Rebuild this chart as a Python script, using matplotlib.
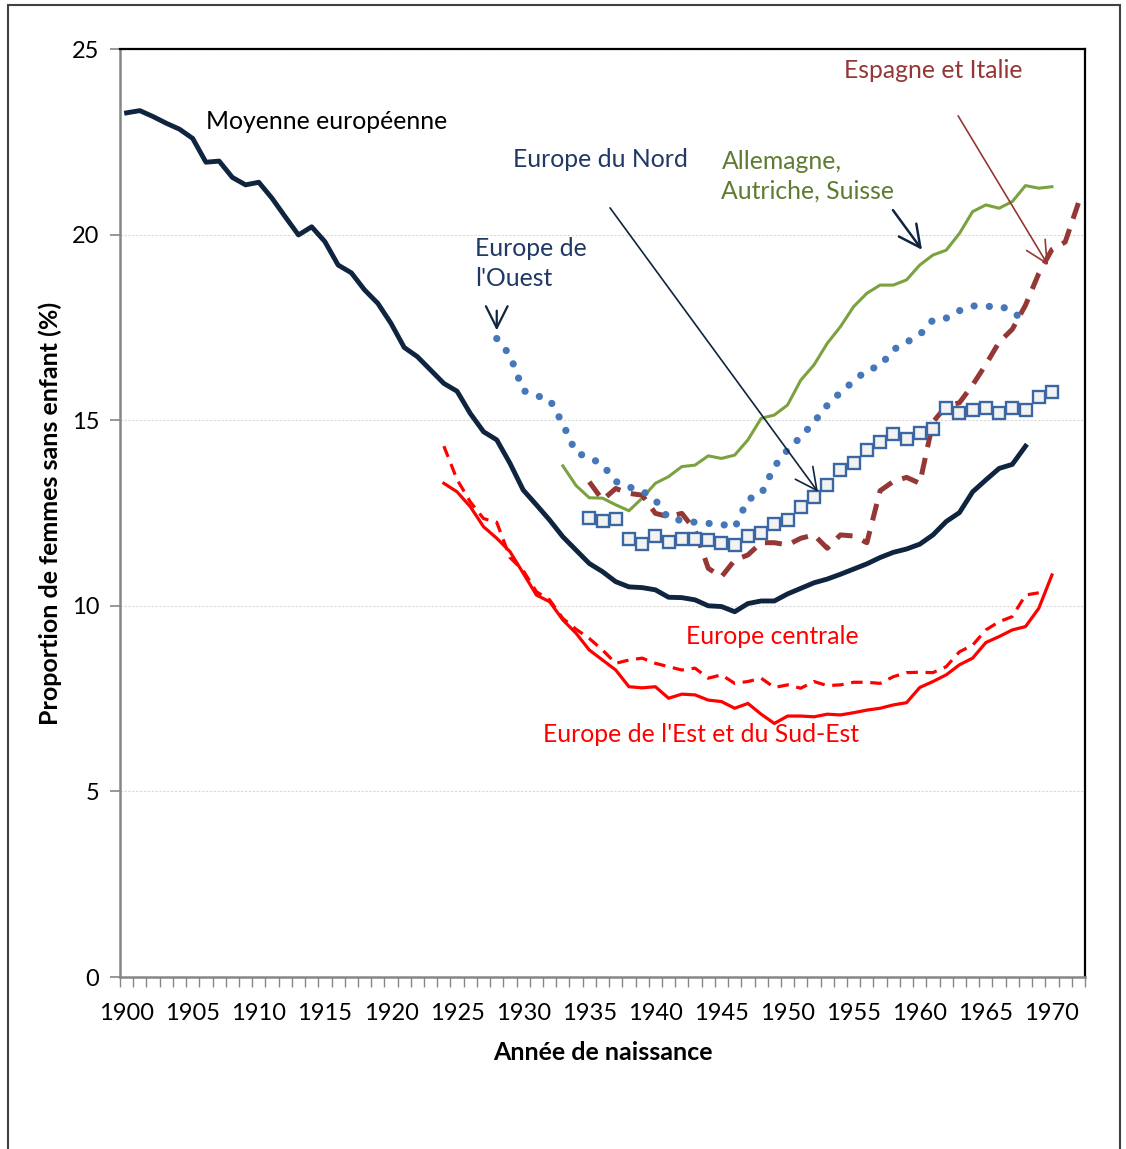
import numpy as np
import matplotlib
matplotlib.use("Agg")
import matplotlib.pyplot as plt
from matplotlib.patches import Rectangle

plt.rcParams['font.family'] = ['Lato', 'DejaVu Sans']

# === DATA ===
years_moy = np.arange(1900, 1969)
moyenne = [23.28, 23.34, 23.18, 23.0, 22.84, 22.59, 21.95, 21.98, 21.54, 21.34,
           21.41, 20.98, 20.48, 19.99, 20.21, 19.81, 19.18, 18.97, 18.51, 18.15,
           17.61, 16.96, 16.71, 16.35, 15.99, 15.78, 15.18, 14.69, 14.47, 13.84,
           13.12, 12.72, 12.31, 11.86, 11.5, 11.14, 10.92, 10.65, 10.51, 10.49,
           10.43, 10.23, 10.22, 10.16, 10.0, 9.98, 9.84, 10.06, 10.13, 10.13,
           10.32, 10.47, 10.62, 10.72, 10.85, 10.99, 11.13, 11.3, 11.44, 11.53,
           11.66, 11.91, 12.27, 12.51, 13.07, 13.39, 13.7, 13.81, 14.3]

years_ouest = np.arange(1928, 1969)
ouest = [17.2, 16.75, 15.8, 15.66, 15.56, 14.9, 14.12, 14.0, 13.8, 13.35,
         13.2, 13.1, 12.85, 12.35, 12.3, 12.25, 12.22, 12.2, 12.1, 12.87,
         13.0, 13.75, 14.2, 14.55, 14.95, 15.4, 15.75, 16.05, 16.35, 16.46,
         16.9, 17.1, 17.3, 17.7, 17.75, 17.95, 18.08, 18.06, 18.08, 17.95,
         17.62]

years_all = np.arange(1933, 1971)
allemagne = [13.77, 13.24, 12.91, 12.9, 12.72, 12.56, 12.9, 13.3, 13.48, 13.75,
             13.79, 14.04, 13.97, 14.06, 14.47, 15.05, 15.14, 15.41, 16.08, 16.49,
             17.07, 17.52, 18.06, 18.42, 18.64, 18.64, 18.78, 19.18, 19.45, 19.58,
             20.03, 20.62, 20.8, 20.71, 20.89, 21.32, 21.25, 21.29]

years_nord = np.arange(1935, 1971)
nord = [12.36, 12.29, 12.33, 11.79, 11.66, 11.89, 11.73, 11.8, 11.8, 11.76,
        11.7, 11.63, 11.88, 11.95, 12.2, 12.31, 12.65, 12.94, 13.25, 13.66,
        13.86, 14.2, 14.42, 14.63, 14.49, 14.66, 14.75, 15.32, 15.2, 15.27,
        15.32, 15.19, 15.34, 15.27, 15.62, 15.75]

years_esp = np.arange(1935, 1973)
espagne = [13.34, 12.85, 13.16, 13.03, 12.98, 12.49, 12.4, 12.49, 12.04, 11.01,
           10.78, 11.23, 11.37, 11.7, 11.7, 11.64, 11.82, 11.91, 11.55, 11.91,
           11.88, 11.7, 13.1, 13.35, 13.46, 13.3, 14.95, 15.38, 15.47, 15.95,
           16.5, 17.1, 17.45, 18.1, 18.95, 19.6, 19.8, 20.85]

years_cent = np.arange(1924, 1970)
centrale = [14.3, 13.4, 12.8, 12.35, 12.25, 11.3, 10.95, 10.38, 10.16, 9.66,
            9.37, 9.12, 8.81, 8.45, 8.54, 8.59, 8.45, 8.36, 8.27, 8.32,
            8.05, 8.14, 7.91, 7.96, 8.05, 7.8, 7.87, 7.78, 7.96, 7.85,
            7.87, 7.94, 7.94, 7.91, 8.09, 8.2, 8.21, 8.2, 8.36, 8.76,
            8.94, 9.35, 9.57, 9.71, 10.29, 10.35]

years_est = np.arange(1924, 1971)
est = [13.3, 13.07, 12.67, 12.13, 11.82, 11.46, 10.88, 10.29, 10.11, 9.62,
       9.26, 8.81, 8.54, 8.27, 7.82, 7.79, 7.82, 7.51, 7.62, 7.6,
       7.46, 7.42, 7.24, 7.37, 7.08, 6.83, 7.03, 7.03, 7.01, 7.08,
       7.06, 7.12, 7.19, 7.24, 7.33, 7.39, 7.8, 7.96, 8.14, 8.41,
       8.59, 9.01, 9.17, 9.35, 9.44, 9.93, 10.83]

xtick_years = np.arange(1900, 1971, 5)
ytick_vals = np.arange(0, 26, 5)

# === COLORS ===
NAVY = '#0F243E'
BLUE_TXT = '#1F3864'
BLUE = '#4677B8'
GREEN = '#7BA23F'
GREEN_TXT = '#5E7B31'
DARKRED = '#953735'
RED = '#FF0000'
LABEL_SIZE = 17.8

fig = plt.figure(figsize=(11.26, 11.49), dpi=100)
ax = fig.add_axes([120 / 1126, 1 - 977 / 1149, 965 / 1126, 928 / 1149])

# grid
for v in ytick_vals[1:]:
    ax.axhline(v, color='#D9D9D9', lw=0.8, ls=(0, (2, 1.5)), zorder=0)

# series
ax.plot(years_est, est, color=RED, lw=2.3, zorder=3)
ax.plot(years_cent, centrale, color=RED, lw=2.3, ls=(0, (3.6, 2.4)), zorder=3)
ax.plot(years_moy, moyenne, color=NAVY, lw=3.5, solid_joinstyle='round', zorder=4)
ax.plot(years_all, allemagne, color=GREEN, lw=2.2, zorder=3)
ax.plot(years_esp, espagne, color=DARKRED, lw=3.6, ls=(0, (3.4, 2.2)), zorder=3)
ax.plot(years_ouest, ouest, color=BLUE, lw=5.2, ls=(0, (0.01, 2.1)),
        dash_capstyle='round', zorder=3)
ax.plot(years_nord, nord, ls='none', marker='s', ms=8.6, mfc='#F2F2F2',
        mec='#3A66A3', mew=1.7, zorder=5)

# axes
ax.set_xlim(1899.5, 1972.5)
ax.set_ylim(0, 25)
ax.set_xticks(xtick_years)
ax.set_xticks(np.arange(1899.5, 1973, 1), minor=True)
ax.set_yticks(ytick_vals)
ax.tick_params(axis='x', which='major', length=0, pad=19, labelsize=17)
ax.tick_params(axis='x', which='minor', length=7, width=1, color='#868686', direction='out')
ax.tick_params(axis='y', length=7, width=1.2, color='#868686', pad=8, labelsize=17)
for s in ['left', 'bottom']:
    ax.spines[s].set_color('#868686')
    ax.spines[s].set_linewidth(1.8)
for s in ['top', 'right']:
    ax.spines[s].set_color('black')
    ax.spines[s].set_linewidth(1.6)

ax.set_xlabel('Année de naissance', fontsize=18, fontweight='bold', labelpad=12)
ax.set_ylabel('Proportion de femmes sans enfant (%)', fontsize=18,
              fontweight='bold', labelpad=7)

# labels
ax.text(1906.0, 23.06, 'Moyenne européenne', color='black', fontsize=LABEL_SIZE, va='center')
ax.text(1929.2, 22.01, 'Europe du Nord', color=BLUE_TXT, fontsize=LABEL_SIZE, va='center')
ax.text(1926.35, 19.23, "Europe de\nl'Ouest", color=BLUE_TXT, fontsize=LABEL_SIZE,
        va='center', linespacing=1.35)
ax.text(1945.0, 21.58, 'Allemagne,\nAutriche, Suisse', color=GREEN_TXT, fontsize=LABEL_SIZE,
        va='center', linespacing=1.35)
ax.text(1954.3, 24.41, 'Espagne et Italie', color=DARKRED, fontsize=LABEL_SIZE, va='center')
ax.text(1942.3, 9.16, 'Europe centrale', color=RED, fontsize=LABEL_SIZE, va='center')
ax.text(1931.5, 6.52, "Europe de l'Est et du Sud-Est", color=RED, fontsize=LABEL_SIZE,
        va='center')

# arrows
def arrow(xy_from, xy_to, color, lw):
    ax.annotate('', xy=xy_to, xytext=xy_from,
                arrowprops=dict(arrowstyle='->, head_length=0.6, head_width=0.3',
                                color=color, lw=lw, shrinkA=0, shrinkB=0,
                                mutation_scale=26), zorder=6)

arrow((1928.0, 17.95), (1928.0, 17.42), NAVY, 1.6)
arrow((1936.57, 20.72), (1952.3, 13.07), NAVY, 1.2)
arrow((1957.97, 20.66), (1960.17, 19.59), NAVY, 1.8)
arrow((1962.9, 23.2), (1969.7, 19.18), DARKRED, 1.2)

# figure border
fig.patches.append(Rectangle((8 / 1126, -0.01), 1112 / 1126, 1.01 - 5 / 1149,
                             transform=fig.transFigure, fill=False,
                             edgecolor='#404040', lw=1.5))

fig.savefig('out.png', dpi=100)
